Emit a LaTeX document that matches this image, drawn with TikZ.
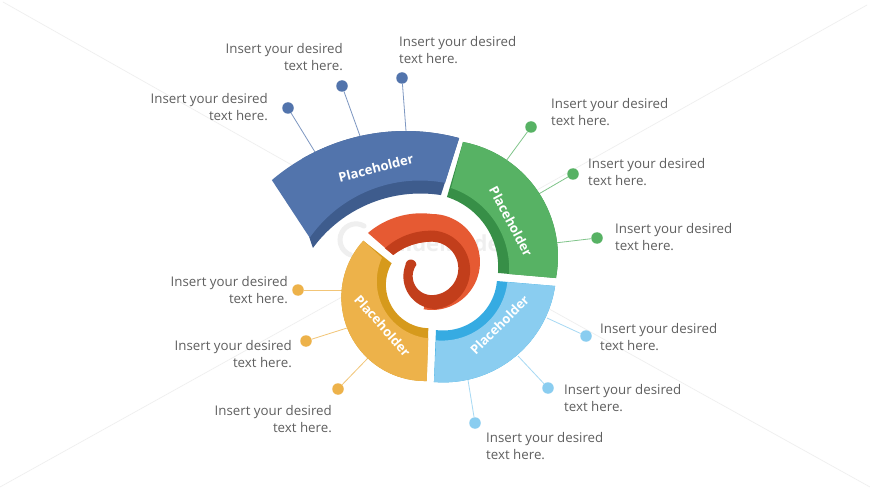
\documentclass[tikz,border=0pt]{standalone}
\usepackage{fontspec}
\setmainfont{Open Sans}
\definecolor{blueA}{HTML}{5274AC}\definecolor{blueB}{HTML}{3E5C8D}
\definecolor{greenA}{HTML}{57B264}\definecolor{greenB}{HTML}{378F47}
\definecolor{skyA}{HTML}{8ACDF0}\definecolor{skyB}{HTML}{36ABE2}
\definecolor{yelA}{HTML}{EDB24A}\definecolor{yelB}{HTML}{D69A1C}
\definecolor{redA}{HTML}{E65A33}\definecolor{redB}{HTML}{C23E1B}
\definecolor{txt}{HTML}{5F5F5F}
\definecolor{faint}{HTML}{EFEFEF}
\newcommand\arcstart[5]{plot[domain=#4:#5,samples=40,variable=\t]({#1+#3*cos(\t)},{#2+#3*sin(\t)})}
\newcommand\arcnext[5]{-- plot[domain=#4:#5,samples=40,variable=\t]({#1+#3*cos(\t)},{#2+#3*sin(\t)})}
\tikzset{
 note/.style={text=txt,font=\fontsize{13.3}{17}\selectfont,inner sep=0pt},
 noteL/.style={note,align=left,anchor=west},
 noteR/.style={note,align=right,anchor=east},
 dot/.style={circle,fill=#1,minimum size=11.5pt,inner sep=0pt},
 lead/.style={draw=#1!75!white,line width=0.8pt},
 title/.style={text=white,font=\fontsize{13}{15}\selectfont\bfseries,inner sep=0pt},
 ray/.style={draw=faint,line width=0.7pt},
}
\begin{document}
\begin{tikzpicture}[x=1pt,y=-1pt]
\useasboundingbox (0,0) rectangle (870,489);
\fill[white] (0,0) rectangle (870,489);
% faint background rays and watermark
\coordinate (r1a) at (3,2);\coordinate (r1b) at (345,195);
\coordinate (r2a) at (867,5);\coordinate (r2b) at (537,190);
\coordinate (r3a) at (870,487);\coordinate (r3b) at (533,300);
\coordinate (r4a) at (0,487);\coordinate (r4b) at (342,297);
\draw[ray] (r1a)--(r1b) (r2a)--(r2b) (r3a)--(r3b) (r4a)--(r4b);
\draw[faint,line width=5pt,line cap=round] (364,226) arc[start angle=-60,end angle=-250,radius=16];
\node[text=faint,font=\fontsize{22}{22}\selectfont\bfseries,inner sep=0pt] (wm) at (447,243) {SlideModel};
% leaders
\foreach \n/\px/\py/\ex/\ey/\c in {
 b1/288/108/315/152/blueA,b2/342/86/360/136/blueA,b3/402/78/406/131/blueA,
 g1/531/127/506/161/greenA,g2/573/174/537/195/greenA,g3/597/238/555/243/greenA,
 s1/586/336/547/318/skyA,s2/548/388/518/356/skyA,s3/475/423/468/380/skyA,
 y1/298/290/343/290/yelA,y2/306/341/347/328/yelA,y3/338/389/368/358/yelA}{
 \coordinate (\n e) at (\ex,\ey);
 \node[dot=\c] (\n) at (\px,\py) {};
 \draw[lead=\c] (\n) -- (\n e);
}
% blue
\coordinate (bk) at (309.3,237.3);
\fill[blueB] \arcstart{405.6}{337.8}{206.8}{240}{285} \arcnext{420.5}{327}{133.5}{278.8}{216.3} -- (bk) -- cycle;
\fill[blueA] \arcstart{405.6}{337.8}{206.8}{229.7}{285} \arcnext{420}{315.5}{135}{280.7}{215.2} -- cycle;
% green
\fill[greenB] \arcstart{441.1}{256.75}{116.85}{-79.2}{10.5} \arcnext{424.4}{267.3}{73.8}{4.4}{-72.2} -- cycle;
\fill[greenA] \arcstart{441.1}{256.75}{116.85}{-79.2}{10.5} \arcnext{424}{268.8}{85.2}{3.5}{-71.5} -- cycle;
% sky
\fill[skyB] \arcstart{443.4}{269.5}{112.9}{8.4}{94.8} \arcnext{443.1}{276.5}{54}{97.6}{4.8} -- cycle;
\fill[skyA] \arcstart{443.4}{269.5}{112.9}{8.4}{94.8} \arcnext{441.8}{274.6}{66}{95}{6.5} -- cycle;
% yellow
\fill[yelB] \arcstart{425.1}{297.3}{83.75}{88.9}{222.5} \arcnext{429.3}{284.8}{43.4}{209.8}{91.3} -- cycle;
\fill[yelA] \arcstart{425.1}{297.3}{83.75}{88.9}{222.5} \arcnext{434}{281.4}{57.2}{204.4}{95.7} -- cycle;
% spiral
\fill[redA] \arcstart{421.3}{295.4}{82.1}{229.5}{277.5} \arcnext{432}{262}{48}{270}{460}
  \arcnext{431.6}{268.4}{30}{100}{-90} \arcnext{431.6}{303.5}{61.8}{270}{231.7} -- cycle;
\fill[redB] \arcstart{430.7}{298.9}{68.2}{227.9}{270} \arcnext{430.6}{270}{39.5}{270}{445}
  \arcnext{436}{276.4}{32.6}{95}{200.5} \arcnext{410.9}{265}{5.4}{180}{360}
  \arcnext{431.6}{276.2}{18.9}{216}{90} \arcnext{431.6}{268.4}{26.7}{90}{-90}
  \arcnext{431.6}{303.5}{61.8}{270}{231.7} -- cycle;
% labels
\node[title,rotate=14] (tb) at (376,168) {Placeholder};
\node[title,rotate=-62] (tg) at (511,221.5) {Placeholder};
\node[title,rotate=45] (tsky) at (499.5,325) {Placeholder};
\node[title,rotate=-48.5] (ty) at (382.5,325.5) {Placeholder};
\node[noteR] (nb1) at (268,107.5) {Insert your desired\\text here.};
\node[noteR] (nb2) at (343,57.5) {Insert your desired\\text here.};
\node[noteL] (nb3) at (399,50.5) {Insert your desired\\text here.};
\node[noteL] (ng1) at (551,112.5) {Insert your desired\\text here.};
\node[noteL] (ng2) at (588,172.5) {Insert your desired\\text here.};
\node[noteL] (ng3) at (615,237.5) {Insert your desired\\text here.};
\node[noteL] (ns1) at (600,337.5) {Insert your desired\\text here.};
\node[noteL] (ns2) at (564,398.5) {Insert your desired\\text here.};
\node[noteL] (ns3) at (486,446.5) {Insert your desired\\text here.};
\node[noteR] (ny1) at (288,290.5) {Insert your desired\\text here.};
\node[noteR] (ny2) at (292,354.5) {Insert your desired\\text here.};
\node[noteR] (ny3) at (332,419.5) {Insert your desired\\text here.};
\end{tikzpicture}
\end{document}
